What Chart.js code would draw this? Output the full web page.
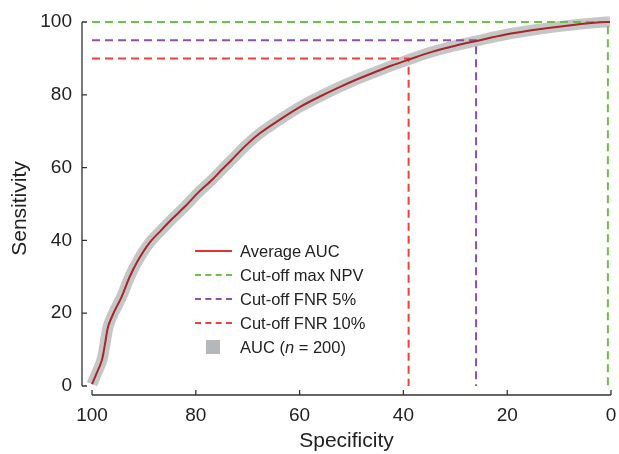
<!DOCTYPE html>
<html>
<head>
<meta charset="utf-8">
<script src="https://cdn.jsdelivr.net/npm/chart.js@4/dist/chart.umd.min.js"></script>
<style>
  body { margin: 0; background: #fff; }
  #wrap { position: relative; width: 619px; height: 454px; }
  #legend { position: absolute; left: 195px; top: 239px; font-family: "Liberation Sans", Arial, sans-serif; font-size: 16.5px; color: #222; }
  #legend .row { height: 24px; display: flex; align-items: center; }
  #legend .mark { width: 37px; margin-right: 8px; position: relative; height: 14px; }
  #legend .mark span { position: absolute; left: 0; right: 0; top: 6px; height: 0; border-top-width: 2.5px; }
  #legend .mark b { position: absolute; left: 11px; top: 0; width: 14px; height: 14px; background: #b5b8ba; }
</style>
</head>
<body>
<div id="wrap">
  <canvas id="roc" width="619" height="454"></canvas>
  <div id="legend"></div>
</div>
<script>
// average ROC curve (specificity %, sensitivity %)
var avgSpec = [100, 99.2, 98.1, 97.5, 96.9, 95.8, 94.3, 92.8, 91.1, 88.9, 86.6, 84.5, 82.1, 79.5, 76.9, 75.0, 73.1, 70.5, 67.6, 63.8, 59.9, 56.0, 52.2, 49.0, 45.9, 42.5, 39.1, 34.5, 30.0, 25.9, 20.5, 15.0, 8.5, 2.1, 0.2];
var avgSens = [0.5, 3.2, 7.1, 11.5, 16.3, 20.2, 24.5, 29.8, 34.6, 39.4, 42.9, 46.0, 49.3, 53.2, 56.6, 59.4, 62.1, 65.9, 69.5, 73.2, 76.7, 79.6, 82.2, 84.2, 86.0, 87.9, 89.6, 91.8, 93.5, 94.8, 96.5, 97.8, 99.0, 99.9, 100];

// cut-off points: max NPV, FNR 5%, FNR 10%
var cutLabels = ['Cut-off max NPV', 'Cut-off FNR 5%', 'Cut-off FNR 10%'];
var cutSpec = [0.6, 26, 39];
var cutSens = [100, 95, 90];
var cutColors = ['#6cbf4a', '#9050a8', '#ef4040'];

var xTicks = [100, 80, 60, 40, 20, 0];
var yTicks = [0, 20, 40, 60, 80, 100];

var avgData = avgSpec.map(function(s, i) { return {x: s, y: avgSens[i]}; });

var datasets = [];
// spread of the 200 bootstrap curves shown as a grey band
datasets.push({
	label: 'AUC (n = 200)', data: avgData, borderColor: 'rgba(192,192,192,0.9)',
	borderWidth: 11, pointRadius: 0, tension: 0.3, clip: 8, order: 3
});
for (var i = 0; i < cutSpec.length; i++) {
	datasets.push({
		label: cutLabels[i],
		data: [{x: 100, y: cutSens[i]}, {x: cutSpec[i], y: cutSens[i]}, {x: cutSpec[i], y: 0}],
		borderColor: cutColors[i], borderWidth: 2, borderDash: [8, 5],
		pointRadius: 0, tension: 0, clip: 8, order: 2
	});
}
datasets.push({
	label: 'Average AUC', data: avgData, borderColor: '#a3282b',
	borderWidth: 2, pointRadius: 0, tension: 0.3, clip: 8, order: 1
});

// axis lines that stop at the first/last tick, ticks pointing inward
var spinePlugin = {
	id: 'spines',
	afterDraw: function(chart) {
		var c = chart.ctx, xs = chart.scales.x, ys = chart.scales.y;
		var ax = chart.chartArea.left, ay = chart.chartArea.bottom;
		c.save();
		c.strokeStyle = '#333';
		c.lineWidth = 1.3;
		c.beginPath();
		c.moveTo(ax, ys.getPixelForValue(100));
		c.lineTo(ax, ys.getPixelForValue(0));
		c.moveTo(xs.getPixelForValue(100), ay);
		c.lineTo(xs.getPixelForValue(0), ay);
		yTicks.forEach(function(v) {
			var p = ys.getPixelForValue(v);
			c.moveTo(ax, p); c.lineTo(ax + 5, p);
		});
		xTicks.forEach(function(v) {
			var p = xs.getPixelForValue(v);
			c.moveTo(p, ay); c.lineTo(p, ay - 5);
		});
		c.stroke();
		c.restore();
	}
};

var font = "'Liberation Sans', Arial, sans-serif";

new Chart(document.getElementById('roc'), {
	type: 'line',
	data: { datasets: datasets },
	options: {
		responsive: false,
		animation: false,
		layout: { padding: { top: 22, right: 8, left: 0, bottom: 0 } },
		plugins: { legend: { display: false }, tooltip: { enabled: false } },
		scales: {
			x: {
				type: 'linear', reverse: true, min: 0, max: 101.93,
				afterBuildTicks: function(s) { s.ticks = xTicks.map(function(v) { return {value: v}; }); },
				afterFit: function(s) { s.height = 59; s.paddingLeft = 0; s.paddingRight = 0; },
				grid: { display: false, drawTicks: false }, border: { display: false },
				ticks: { color: '#222', font: { family: font, size: 19 }, padding: 9, maxRotation: 0 },
				title: { display: true, text: 'Specificity', color: '#222', font: { family: font, size: 21 }, padding: { top: 0, bottom: 0 } }
			},
			y: {
				type: 'linear', min: -2.47, max: 100,
				afterBuildTicks: function(s) { s.ticks = yTicks.map(function(v) { return {value: v}; }); },
				afterFit: function(s) { s.width = 82; },
				grid: { display: false, drawTicks: false }, border: { display: false },
				ticks: { color: '#222', font: { family: font, size: 19 }, padding: 10 },
				title: { display: true, text: 'Sensitivity', color: '#222', font: { family: font, size: 21 }, padding: { top: 8, bottom: 0 } }
			}
		}
	},
	plugins: [spinePlugin]
});

// legend
var legendItems = [
	{ text: 'Average AUC', color: '#e53232', dash: false },
	{ text: cutLabels[0], color: cutColors[0], dash: true },
	{ text: cutLabels[1], color: cutColors[1], dash: true },
	{ text: cutLabels[2], color: cutColors[2], dash: true },
	{ text: 'AUC (<i>n</i> = 200)', box: true }
];
var html = '';
legendItems.forEach(function(it) {
	var mark = it.box ? '<b></b>'
		: '<span style="border-top-style:' + (it.dash ? 'dashed' : 'solid') + ';border-top-color:' + it.color + '"></span>';
	html += '<div class="row"><div class="mark">' + mark + '</div><div>' + it.text + '</div></div>';
});
document.getElementById('legend').innerHTML = html;
</script>
</body>
</html>
